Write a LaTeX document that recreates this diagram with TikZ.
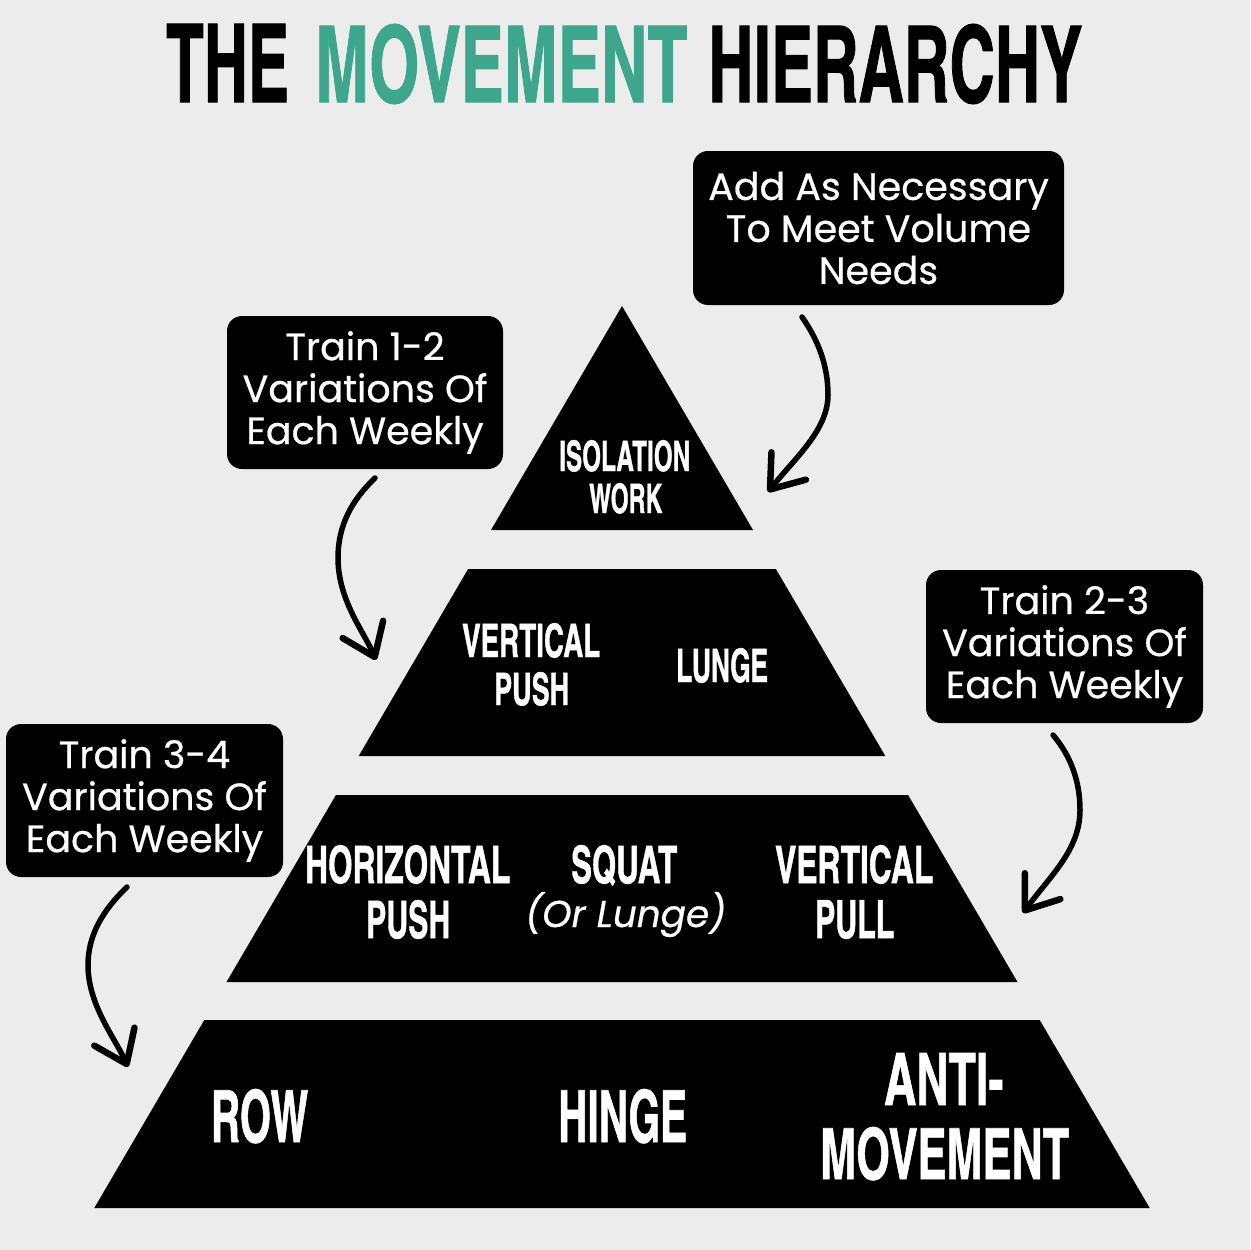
\documentclass[tikz,border=0pt]{standalone}
\usepackage{fontspec}
\setmainfont{Poppins}[FakeBold=0.6]
\newfontfamily\condfont{texgyreheroscn-bold}[Extension=.otf, FakeBold=1]
\usetikzlibrary{arrows.meta}
\definecolor{bgpaper}{RGB}{236,236,236}
\definecolor{titleteal}{RGB}{63,166,142}
\newcommand{\ct}[3]{\resizebox{#1pt}{#2pt}{\condfont #3}}
\begin{document}
\begin{tikzpicture}[x=1pt,y=-1pt,
  lab/.style={inner sep=0pt, anchor=base west, text=white},
  note/.style={fill=black, rounded corners=15pt, text=white, align=center, inner sep=0pt,
               font=\fontsize{38}{42}\selectfont},
  arr/.style={line width=5.5pt, line cap=round,
              -{Straight Barb[length=30pt,width=44pt,line width=6.5pt,round]}},
  tier/.style={fill=black}
]
\useasboundingbox (0,0) rectangle (1250,1250);
\fill[bgpaper] (0,0) rectangle (1250,1250);

% title
\node[lab, text=black] (tthe) at (166,102) {\ct{123}{78}{THE}};
\node[lab, text=titleteal] (tmov) at (315,102) {\ct{372}{78}{MOVEMENT}};
\node[lab, text=black] (thier) at (708,102) {\ct{374}{78}{HIERARCHY}};

% pyramid tiers
\fill[tier] (622,306) -- (753,530) -- (491,530) -- cycle;
\fill[tier] (468.1,569) -- (775.9,569) -- (885.3,756) -- (358.7,756) -- cycle;
\fill[tier] (335.9,795) -- (908.1,795) -- (1017.5,982) -- (226.5,982) -- cycle;
\fill[tier] (204.3,1020) -- (1039.7,1020) -- (1149.7,1208) -- (94.3,1208) -- cycle;

% tier labels
\node[lab] (iso) at (559,471) {\ct{131}{31}{ISOLATION}};
\node[lab] (work) at (589,513) {\ct{73}{30}{WORK}};
\node[lab] (vpush1) at (462,657) {\ct{138}{34}{VERTICAL}};
\node[lab] (vpush2) at (494,705) {\ct{75}{33}{PUSH}};
\node[lab] (lunge) at (676,682) {\ct{92}{34}{LUNGE}};
\node[lab] (hpush1) at (305,883) {\ct{205}{38}{HORIZONTAL}};
\node[lab] (hpush2) at (366,938) {\ct{84}{38}{PUSH}};
\node[lab] (squat) at (571,883) {\ct{106}{38}{SQUAT}};
\node[lab] (orlunge) at (525,927) {\resizebox{201pt}{!}{\fontsize{36}{40}\selectfont\itshape (Or Lunge)}};
\node[lab] (vpull1) at (775,883) {\ct{158}{38}{VERTICAL}};
\node[lab] (vpull2) at (815,938) {\ct{79}{38}{PULL}};
\node[lab] (row) at (211,1142) {\ct{97}{53}{ROW}};
\node[lab] (hinge) at (558,1142) {\ct{129}{53}{HINGE}};
\node[lab] (anti1) at (884,1105) {\ct{119}{52}{ANTI-}};
\node[lab] (anti2) at (820,1179) {\ct{249}{52}{MOVEMENT}};

% note boxes
\node[note, minimum width=371pt, minimum height=154pt] (addbox) at (878.5,228)
  {Add As Necessary\\To Meet Volume\\Needs};
\node[note, minimum width=276pt, minimum height=153pt] (box12) at (365,392.5)
  {Train 1-2\\Variations Of\\Each Weekly};
\node[note, minimum width=277pt, minimum height=153pt] (box23) at (1064.5,646.5)
  {Train 2-3\\Variations Of\\Each Weekly};
\node[note, minimum width=277pt, minimum height=153pt] (box34) at (144.5,800.5)
  {Train 3-4\\Variations Of\\Each Weekly};

% arrows
\coordinate (aS) at (802,317); \coordinate (aM) at (828,395); \coordinate (aT) at (768,492);
\draw[arr] (aS) .. controls (818,340) and (828,365) .. (aM) .. controls (828,430) and (795,458) .. (aT);

\coordinate (bS) at (375,478); \coordinate (bM) at (338,558); \coordinate (bT) at (376,660);
\draw[arr] (bS) .. controls (352,500) and (338,525) .. (bM) .. controls (338,600) and (364,632) .. (bT);

\coordinate (cS) at (1053,735); \coordinate (cM) at (1080,810); \coordinate (cT) at (1023,913);
\draw[arr] (cS) .. controls (1070,755) and (1080,780) .. (cM) .. controls (1080,850) and (1050,876) .. (cT);

\coordinate (dS) at (127,887); \coordinate (dM) at (88,965); \coordinate (dT) at (128,1067);
\draw[arr] (dS) .. controls (103,910) and (88,935) .. (dM) .. controls (88,1005) and (115,1038) .. (dT);
\end{tikzpicture}
\end{document}
